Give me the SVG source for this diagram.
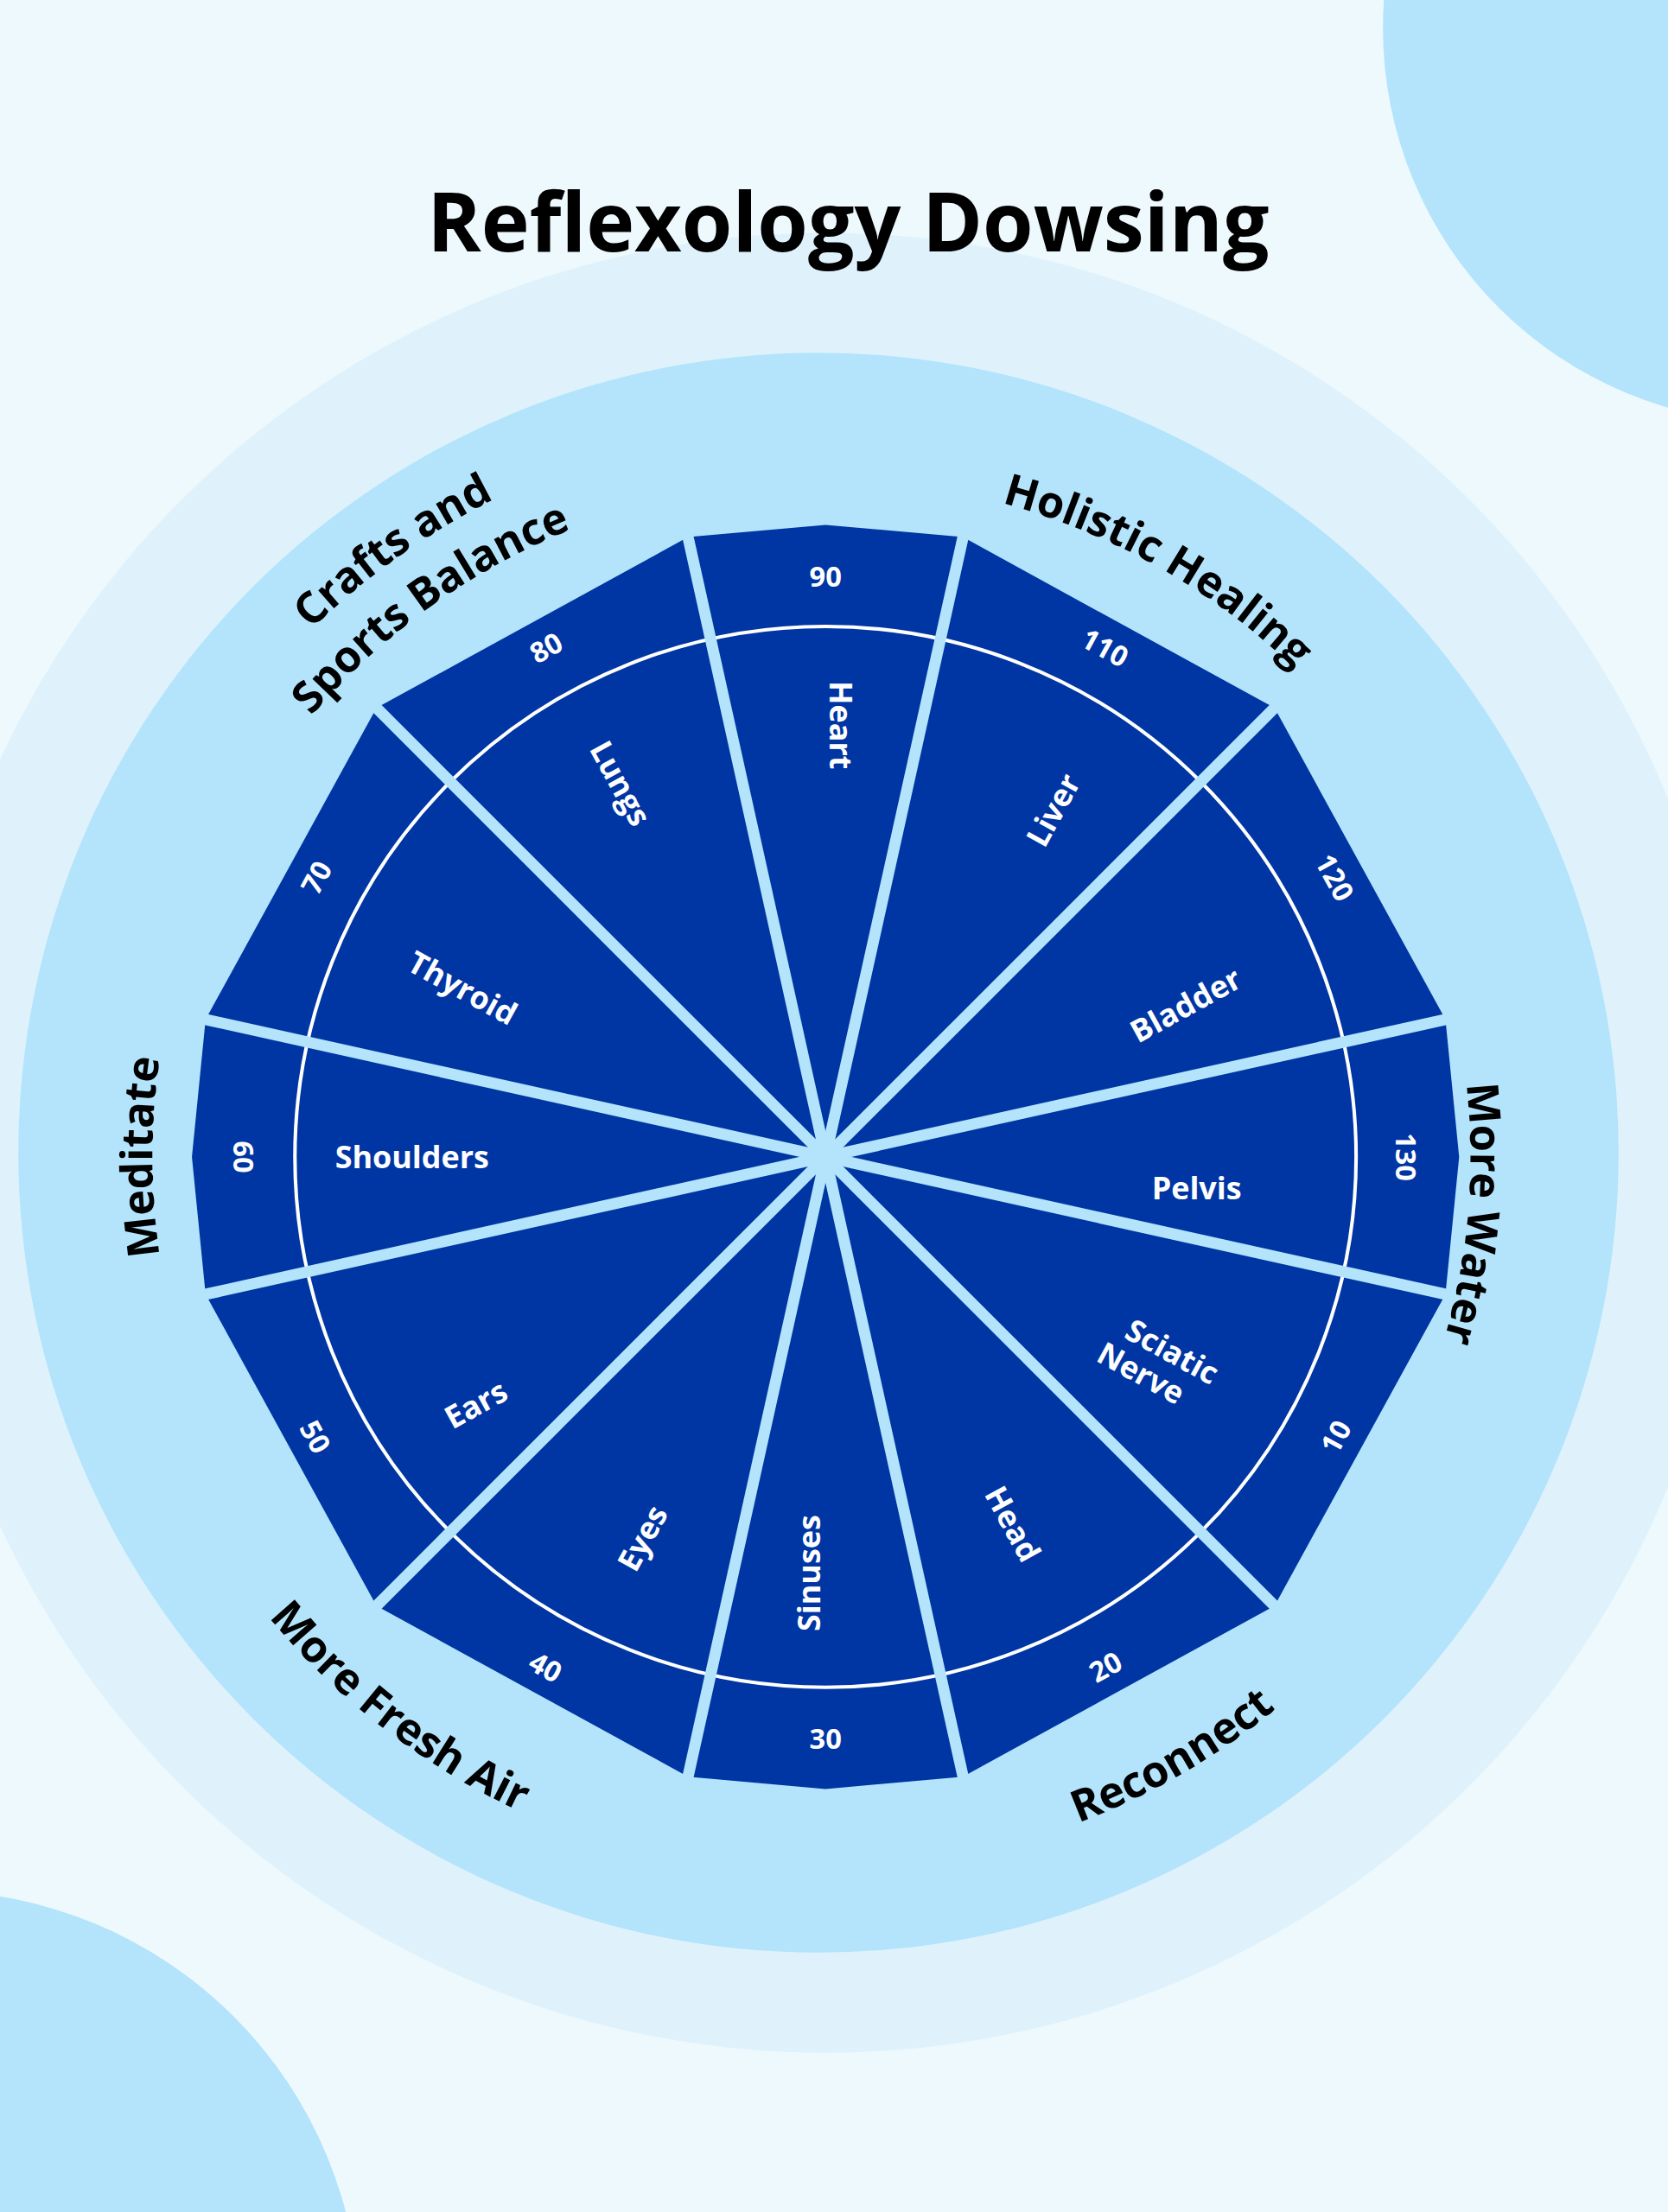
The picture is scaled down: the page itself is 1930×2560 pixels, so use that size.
<svg xmlns="http://www.w3.org/2000/svg" xmlns:xlink="http://www.w3.org/1999/xlink" width="1930" height="2560" viewBox="0 0 1930 2560">
<style>
text{font-family:"Open Sans","Liberation Sans",sans-serif;font-weight:bold}
.num{fill:#fff;font-size:20px;text-anchor:middle;dominant-baseline:central}
.org{fill:#fff;font-size:22px;text-anchor:middle;dominant-baseline:central}
.cat{fill:#000;font-size:31px}
.wedge{fill:#0036a3}
.sep{stroke:#b3e4fb;stroke-width:8}
</style>
<defs>
<path id="r480" d="M169.3,580 A480,480 0 0 1 1000.7,580"/>
<path id="r477" d="M171.9,581.5 A477,477 0 0 1 998.1,581.5"/>
<path id="r457" d="M189.2,591.5 A457,457 0 0 1 980.8,591.5"/>
<path id="r522" d="M132.9,559 A522,522 0 0 1 1037.1,559"/>
<path id="b505" d="M147.7,1072.5 A505,505 0 0 0 1022.3,1072.5"/>
<path id="b512" d="M141.6,1076 A512,512 0 0 0 1028.4,1076"/>
</defs>
<rect width="1930" height="2560" fill="#eef9fe"/>
<g transform="scale(1.6328)">
<circle cx="1260" cy="20" r="280" fill="#b3e4fb"/>
<circle cx="-50" cy="1645" r="305" fill="#b3e4fb"/>
<circle cx="585" cy="810" r="645" fill="#dff2fc"/>
<circle cx="580" cy="817" r="567" fill="#b3e4fb"/>
<text x="601" y="178" font-size="58" text-anchor="middle" fill="#000" style="font-size:58px">Reflexology Dowsing</text>

<g id="w90"><polygon class="wedge" points="585,820 487.6,380.7 585,372 682.4,380.7"/><text class="num" x="585" y="408">90</text><text class="org" transform="translate(596,514) rotate(90)">Heart</text></g>
<g id="w110"><polygon class="wedge" points="585,820 682.4,380.7 903.2,501.8"/><text class="num" transform="translate(783.2,458.8) rotate(28.75)">110</text><text class="org" transform="translate(746,574) rotate(-61.25)">Liver</text></g>
<g id="w120"><polygon class="wedge" points="585,820 903.2,501.8 1024.3,722.6"/><text class="num" transform="translate(946.2,621.8) rotate(61.25)">120</text><text class="org" transform="translate(840,712) rotate(-28.75)">Bladder</text></g>
<g id="w130"><polygon class="wedge" points="585,820 1024.3,722.6 1034,820 1024.3,917.4"/><text class="num" transform="translate(997,820) rotate(90)">130</text><text class="org" transform="translate(848,842)">Pelvis</text></g>
<g id="w10"><polygon class="wedge" points="585,820 1024.3,917.4 903.2,1138.2"/><text class="num" transform="translate(946.2,1018.2) rotate(-61.25)">10</text><text class="org" transform="translate(820,965) rotate(28.75)"><tspan x="6" y="-12">Sciatic</tspan><tspan x="-6" y="12">Nerve</tspan></text></g>
<g id="w20"><polygon class="wedge" points="585,820 903.2,1138.2 682.4,1259.3"/><text class="num" transform="translate(783.2,1181.2) rotate(-28.75)">20</text><text class="org" transform="translate(718,1080) rotate(61.25)">Head</text></g>
<g id="w30"><polygon class="wedge" points="585,820 682.4,1259.3 585,1268 487.6,1259.3"/><text class="num" x="585" y="1232">30</text><text class="org" transform="translate(573,1115) rotate(-90)">Sinuses</text></g>
<g id="w40"><polygon class="wedge" points="585,820 487.6,1259.3 266.8,1138.2"/><text class="num" transform="translate(386.8,1181.2) rotate(28.75)">40</text><text class="org" transform="translate(455,1090) rotate(-61.25)">Eyes</text></g>
<g id="w50"><polygon class="wedge" points="585,820 266.8,1138.2 145.7,917.4"/><text class="num" transform="translate(223.8,1018.2) rotate(61.25)">50</text><text class="org" transform="translate(337,995) rotate(-28.75)">Ears</text></g>
<g id="w60"><polygon class="wedge" points="585,820 145.7,917.4 136,820 145.7,722.6"/><text class="num" transform="translate(173,820) rotate(90)">60</text><text class="org" transform="translate(292,820)">Shoulders</text></g>
<g id="w70"><polygon class="wedge" points="585,820 145.7,722.6 266.8,501.8"/><text class="num" transform="translate(223.8,621.8) rotate(-61.25)">70</text><text class="org" transform="translate(328,700) rotate(28.75)">Thyroid</text></g>
<g id="w80"><polygon class="wedge" points="585,820 266.8,501.8 487.6,380.7"/><text class="num" transform="translate(386.8,458.8) rotate(-28.75)">80</text><text class="org" transform="translate(440,555) rotate(61.25)">Lungs</text></g>

<circle cx="585" cy="820" r="376" fill="none" stroke="#fff" stroke-width="2.5"/>
<g id="connectors" class="sep">
<line x1="585" y1="820" x2="683.5" y2="376"/>
<line x1="585" y1="820" x2="906.8" y2="498.2"/>
<line x1="585" y1="820" x2="1029.2" y2="721.5"/>
<line x1="585" y1="820" x2="1029.2" y2="918.5"/>
<line x1="585" y1="820" x2="906.8" y2="1141.8"/>
<line x1="585" y1="820" x2="683.5" y2="1264"/>
<line x1="585" y1="820" x2="486.5" y2="1264"/>
<line x1="585" y1="820" x2="263.2" y2="1141.8"/>
<line x1="585" y1="820" x2="140.8" y2="918.5"/>
<line x1="585" y1="820" x2="140.8" y2="721.5"/>
<line x1="585" y1="820" x2="263.2" y2="498.2"/>
<line x1="585" y1="820" x2="486.5" y2="376"/>
</g>

<g id="labels">
<text class="cat" transform="rotate(29.5 585 820)"><textPath href="#r480" xlink:href="#r480" startOffset="50%" text-anchor="middle">Holistic Healing</textPath></text>
<text class="cat" transform="rotate(-35.5 585 820)"><textPath href="#r522" xlink:href="#r522" startOffset="50%" text-anchor="middle">Crafts and</textPath></text>
<text class="cat" transform="rotate(-35.7 585 820)"><textPath href="#r480" xlink:href="#r480" startOffset="50%" text-anchor="middle">Sports Balance</textPath></text>
<text class="cat" transform="rotate(-90 585 820)"><textPath href="#r477" xlink:href="#r477" startOffset="50%" text-anchor="middle">Meditate</textPath></text>
<text class="cat" transform="rotate(95 585 820)"><textPath href="#r457" xlink:href="#r457" startOffset="50%" text-anchor="middle">More Water</textPath></text>
<text class="cat" transform="rotate(-30 585 820)"><textPath href="#b505" xlink:href="#b505" startOffset="50%" text-anchor="middle">Reconnect</textPath></text>
<text class="cat" transform="rotate(37.7 585 820)"><textPath href="#b512" xlink:href="#b512" startOffset="50%" text-anchor="middle">More Fresh Air</textPath></text>
</g>
</g>
</svg>
